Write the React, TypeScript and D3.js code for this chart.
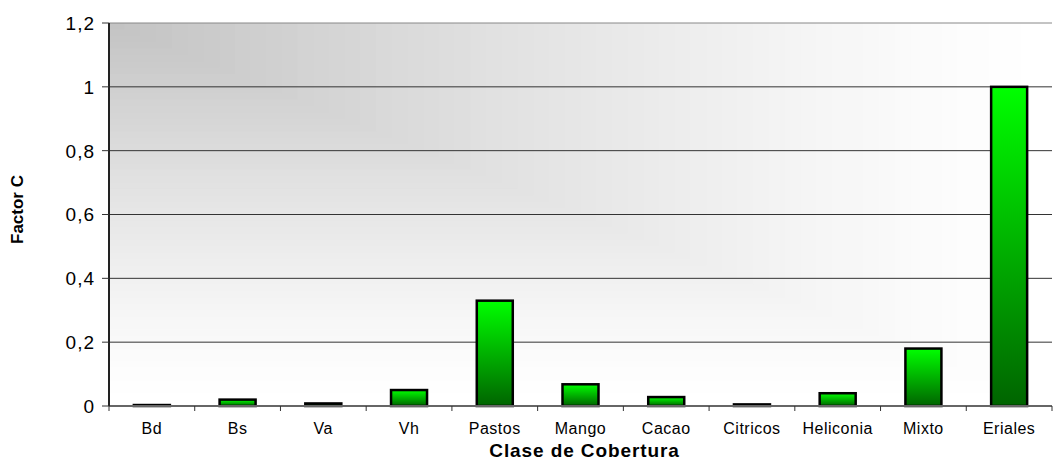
import * as d3 from 'd3';

const categories = ['Bd', 'Bs', 'Va', 'Vh', 'Pastos', 'Mango', 'Cacao', 'Citricos', 'Heliconia', 'Mixto', 'Eriales'];
const factorC = [0.003, 0.02, 0.008, 0.05, 0.33, 0.068, 0.028, 0.005, 0.04, 0.18, 1.0];
const yTicks = [0, 0.2, 0.4, 0.6, 0.8, 1, 1.2];

const WIDTH = 1054;
const HEIGHT = 468;
const MARGIN = { top: 23, right: 2, bottom: 62, left: 109 };

export default function App() {
  const boundsWidth = WIDTH - MARGIN.left - MARGIN.right;
  const boundsHeight = HEIGHT - MARGIN.top - MARGIN.bottom;

  const xScale = d3.scaleBand().domain(categories).range([0, boundsWidth]).paddingInner(0.58).paddingOuter(0.29);
  const yScale = d3.scaleLinear().domain([0, 1.2]).range([boundsHeight, 0]);
  const step = xScale.step();

  // fondo degradado "desde la esquina"
  const bgSteps = d3.range(60, 0, -1).map(i => i / 60);
  const bgColor = d3.interpolateRgb('#ffffff', '#c2c2c2');

  const fmt = (v: number) => String(+v.toFixed(1)).replace('.', ',');

  return (
    <svg width={WIDTH} height={HEIGHT} style={{ position: 'absolute', left: 0, top: 0, fontFamily: '"Liberation Sans", Arial, sans-serif' }}>
      <defs>
        <linearGradient id="barGrad" x1="0" y1="0" x2="0" y2="1">
          <stop offset="0%" stopColor="#00ff00" />
          <stop offset="100%" stopColor="#006400" />
        </linearGradient>
      </defs>
      <rect width={WIDTH} height={HEIGHT} fill="#ffffff" />
      <g transform={`translate(${MARGIN.left}, ${MARGIN.top})`}>
        {bgSteps.map(t => (
          <rect key={t} x={0} y={0} width={boundsWidth * t} height={boundsHeight * t} fill={bgColor(Math.pow(1 - t, 1.3))} />
        ))}
        {yTicks.filter(t => t > 0).map(t => (
          <line key={t} x1={0} x2={boundsWidth} y1={yScale(t)} y2={yScale(t)} stroke={t === 1.2 ? '#888' : '#333'} strokeWidth={1} />
        ))}
        {categories.map((c, i) => {
          const y = yScale(factorC[i]);
          return (
            <rect key={c} x={xScale(c)!} y={y} width={xScale.bandwidth()} height={boundsHeight - y}
              fill="url(#barGrad)" stroke="#000" strokeWidth={2.5} />
          );
        })}
        {/* eje x */}
        <line x1={0} x2={boundsWidth} y1={boundsHeight} y2={boundsHeight} stroke="#666" strokeWidth={2} />
        {d3.range(categories.length + 1).map(i => (
          <line key={i} x1={i * step} x2={i * step} y1={boundsHeight} y2={boundsHeight + 5} stroke="#333" strokeWidth={1} />
        ))}
        {categories.map(c => (
          <text key={c} x={xScale(c)! + xScale.bandwidth() / 2} y={boundsHeight + 28} textAnchor="middle" fontSize={16} letterSpacing={0.5} fill="#000">{c}</text>
        ))}
        {/* eje y */}
        <line x1={0} x2={0} y1={0} y2={boundsHeight} stroke="#222" strokeWidth={2} />
        {yTicks.map(t => (
          <g key={t}>
            <line x1={-7} x2={0} y1={yScale(t)} y2={yScale(t)} stroke="#333" strokeWidth={1} />
            <text x={-14} y={yScale(t)} dy="0.36em" textAnchor="end" fontSize={19} letterSpacing={1} fill="#000">{fmt(t)}</text>
          </g>
        ))}
        <text x={boundsWidth / 2 + 4} y={boundsHeight + 51} textAnchor="middle" fontSize={19} fontWeight="bold" letterSpacing={0.9}>Clase de Cobertura</text>
        <text transform={`translate(${-86}, ${boundsHeight / 2 - 5}) rotate(-90)`} textAnchor="middle" fontSize={17} fontWeight="bold">Factor C</text>
      </g>
    </svg>
  );
}
